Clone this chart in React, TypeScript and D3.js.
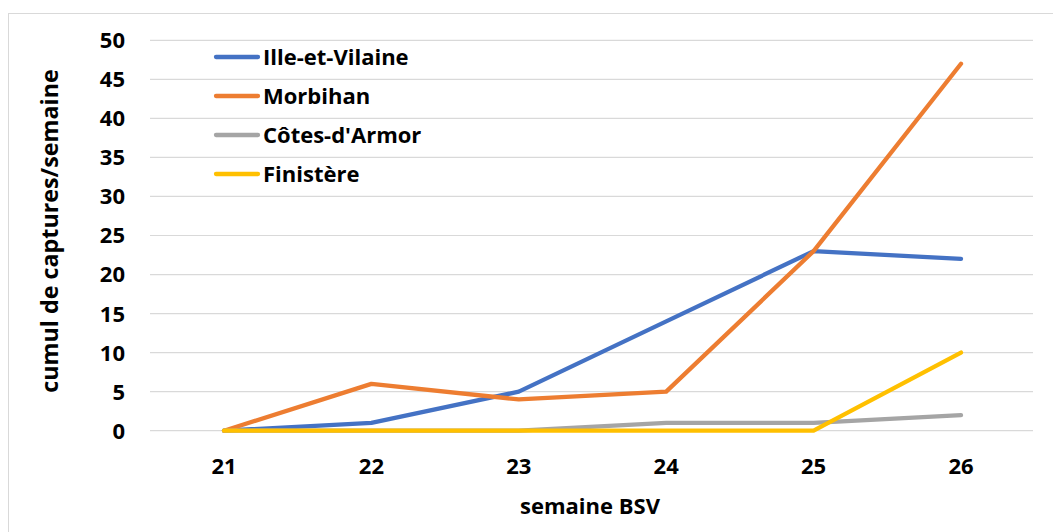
import React from "react";
import * as d3 from "d3";

const weeks = ["21", "22", "23", "24", "25", "26"];
const illeEtVilaine = [0, 1, 5, 14, 23, 22];
const morbihan = [0, 6, 4, 5, 23, 47];
const cotesDArmor = [0, 0, 0, 1, 1, 2];
const finistere = [0, 0, 0, 0, 0, 10];
const yTicks = [0, 5, 10, 15, 20, 25, 30, 35, 40, 45, 50];

const series = [
  { name: "Ille-et-Vilaine", values: illeEtVilaine, color: "#4472C4" },
  { name: "Morbihan", values: morbihan, color: "#ED7D31" },
  { name: "Côtes-d'Armor", values: cotesDArmor, color: "#A5A5A5" },
  { name: "Finistère", values: finistere, color: "#FFC000" },
];

const W = 1053;
const H = 532;
const FONT = "'Open Sans', Lato, sans-serif";
const FS = 22;

export default function App() {
  const x = d3.scalePoint<string>().domain(weeks).range([224, 961]);
  const y = d3.scaleLinear().domain([0, 50]).range([430.7, 40.3]);
  const line = d3
    .line<number>()
    .x((_, i) => x(weeks[i]) as number)
    .y((d) => y(d));

  return (
    <div style={{ position: "absolute", left: 0, top: 0 }}>
      <svg width={W} height={H} style={{ display: "block", background: "#fff" }}>
        <rect x={8.5} y={13.5} width={W + 10} height={H + 10} fill="#fff" stroke="#D9D9D9" strokeWidth={1} />
        {yTicks.map((t) => (
          <line key={t} x1={150} x2={1033} y1={y(t)} y2={y(t)} stroke="#D9D9D9" strokeWidth={1.2} />
        ))}
        {yTicks.map((t) => (
          <text
            key={"l" + t}
            x={125}
            y={y(t)}
            dy="0.36em"
            textAnchor="end"
            fontFamily={FONT}
            fontWeight="bold"
            fontSize={FS}
            fill="#000"
          >
            {t}
          </text>
        ))}
        {weeks.map((w) => (
          <text
            key={"x" + w}
            x={x(w)}
            y={466}
            dy="0.36em"
            textAnchor="middle"
            fontFamily={FONT}
            fontWeight="bold"
            fontSize={FS}
            fill="#000"
          >
            {w}
          </text>
        ))}
        {series.map((s) => (
          <path
            key={s.name}
            d={line(s.values) || ""}
            fill="none"
            stroke={s.color}
            strokeWidth={4.3}
            strokeLinejoin="round"
            strokeLinecap="round"
          />
        ))}
        {series.map((s, i) => (
          <g key={"lg" + s.name} transform={`translate(0, ${57 + i * 39})`}>
            <line x1={216} x2={258} y1={0} y2={0} stroke={s.color} strokeWidth={4.3} strokeLinecap="round" />
            <text x={263} y={0} dy="0.36em" fontFamily={FONT} fontWeight="bold" fontSize={FS} fill="#000">
              {s.name}
            </text>
          </g>
        ))}
        <text
          transform="translate(50, 231) rotate(-90)"
          dy="0.36em"
          textAnchor="middle"
          fontFamily={FONT}
          fontWeight="bold"
          fontSize={23.3}
          fill="#000"
        >
          cumul de captures/semaine
        </text>
        <text
          x={590}
          y={506}
          dy="0.36em"
          textAnchor="middle"
          fontFamily={FONT}
          fontWeight="bold"
          fontSize={FS}
          fill="#000"
        >
          semaine BSV
        </text>
      </svg>
    </div>
  );
}
